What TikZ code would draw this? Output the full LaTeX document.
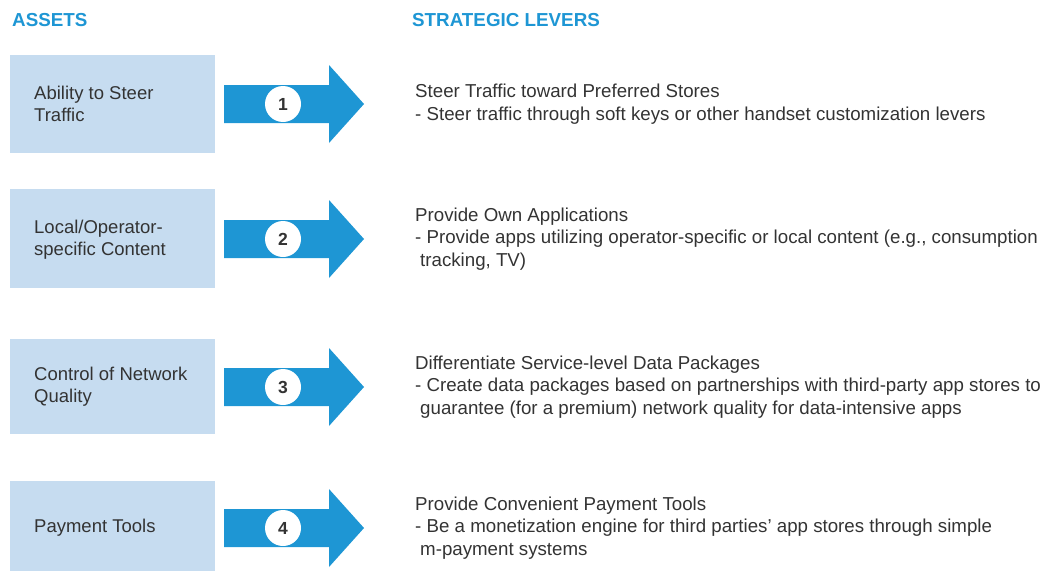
\documentclass[tikz,border=0pt]{standalone}
\usepackage{fontspec}
\setmainfont{Liberation Sans}
\definecolor{levblue}{HTML}{1E96D4}
\definecolor{assetfill}{HTML}{C6DCF0}
\definecolor{txtgrey}{HTML}{333333}
\tikzset{
	headtxt/.style={anchor=base west, inner sep=0, text=levblue, font=\fontsize{18.8}{20}\selectfont\bfseries},
	assettxt/.style={anchor=west, align=left, inner sep=0, text=txtgrey, font=\fontsize{18.5}{22}\selectfont},
	levertxt/.style={anchor=west, align=left, inner sep=0, text=txtgrey, font=\fontsize{18.7}{22.5}\selectfont},
	numdot/.style={circle, fill=white, minimum size=36pt, inner sep=0, text=txtgrey, font=\fontsize{17.5}{17.5}\selectfont\bfseries}
}
\begin{document}
\begin{tikzpicture}[x=1pt, y=-1pt]
	\useasboundingbox (0,0) rectangle (1048,570);
	\node[headtxt] (hA) at (12,27) {ASSETS};
	\node[headtxt] (hL) at (412,27) {STRATEGIC LEVERS};
% asset boxes
	\fill[assetfill](10,55) rectangle (215,153);
	\fill[assetfill](10,189) rectangle (215,288);
	\fill[assetfill](10,339) rectangle (215,434);
	\fill[assetfill](10,481) rectangle (215,575);
	\node[assettxt] (a1) at (34,104) {Ability to Steer\\Traffic};
	\node[assettxt] (a2) at (34,240) {Local/Operator-\\specific Content};
	\node[assettxt] (a3) at (34,387) {Control of Network\\Quality};
	\node[assettxt] (a4) at (34,528) {Payment Tools};
% arrows
	\foreach \c/\n in {104/1,239/2,387/3,528/4}{
		\fill[levblue](224,\c-19)--(329,\c-19)--(329,\c-39)--(364,\c)--(329,\c+39)--(329,\c+19)--(224,\c+19)--cycle;
		\node[numdot] (n\n) at (283,\c) {\n};
	}
% levers
	\node[levertxt] (l1) at (415,104) {Steer Traffic toward Preferred Stores\\- Steer traffic through soft keys or other handset customization levers};
	\node[levertxt] (l2) at (415,239) {Provide Own Applications\\- Provide apps utilizing operator-specific or local content (e.g., consumption\\\hspace*{5pt}tracking, TV)};
	\node[levertxt] (l3) at (415,387) {Differentiate Service-level Data Packages\\- Create data packages based on partnerships with third-party app stores to\\\hspace*{5pt}guarantee (for a premium) network quality for data-intensive apps};
	\node[levertxt] (l4) at (415,528) {Provide Convenient Payment Tools\\- Be a monetization engine for third parties’ app stores through simple\\\hspace*{5pt}m-payment systems};
\end{tikzpicture}
\end{document}
